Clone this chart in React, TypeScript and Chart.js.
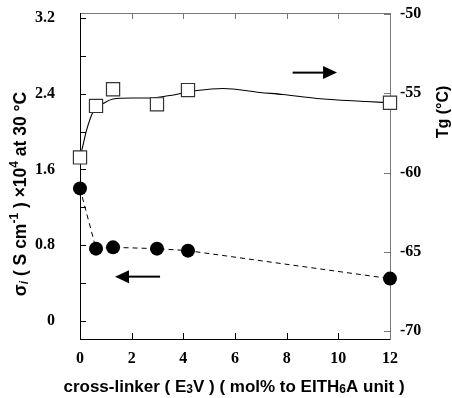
import React, { useEffect, useRef } from 'react';
import { Chart, registerables } from 'chart.js';
Chart.register(...registerables);

// ---- data ----
const crossLinker = [0, 0.62, 1.28, 2.98, 4.18, 12];
const sigmaValues = [1.4, 0.762, 0.776, 0.762, 0.741, 0.445];
const tgValues = [-59.05, -55.8, -54.75, -55.7, -54.8, -55.6];
const fitX = [0, 0.07, 0.26, 0.5, 0.97, 1.28, 2.0, 2.71, 3.48, 4.53, 5.54, 6.97, 7.86, 9.17, 11.1, 12];
const fitTg = [-59.05, -58.6, -57.3, -56.2, -55.58, -55.36, -55.3, -55.3, -55.14, -54.83, -54.7, -54.95, -55.08, -55.33, -55.52, -55.6];
const xTickValues = [0, 2, 4, 6, 8, 10, 12];
const sigmaTickValues = [0, 0.8, 1.6, 2.4, 3.2];
const sigmaMinorValues = [0.4, 1.2, 2.0, 2.8];
const tgTickValues = [-70, -65, -60, -55, -50];

const SERIF = '"Liberation Serif", "Times New Roman", serif';
const SANS = '"Liberation Sans", Arial, sans-serif';

type Run = { t: string; size: number; italic?: boolean; dy?: number };

function drawRuns(ctx: CanvasRenderingContext2D, runs: Run[], cx: number, cy: number, rotate: boolean) {
  const fontOf = (r: Run) => `${r.italic ? 'italic ' : ''}bold ${r.size}px ${SANS}`;
  let total = 0;
  const widths = runs.map((r) => {
    ctx.font = fontOf(r);
    const w = ctx.measureText(r.t).width;
    total += w;
    return w;
  });
  ctx.save();
  ctx.translate(cx, cy);
  if (rotate) ctx.rotate(-Math.PI / 2);
  ctx.fillStyle = '#000';
  ctx.textBaseline = 'middle';
  ctx.textAlign = 'left';
  let x = -total / 2;
  runs.forEach((r, i) => {
    ctx.font = fontOf(r);
    ctx.fillText(r.t, x, r.dy || 0);
    x += widths[i];
  });
  ctx.restore();
}

const noPad = (s: any) => {
  s.paddingTop = 0;
  s.paddingBottom = 0;
  s.paddingLeft = 0;
  s.paddingRight = 0;
};

const decorPlugin = {
  id: 'decor',
  afterDraw(chart: any) {
    const ctx: CanvasRenderingContext2D = chart.ctx;
    const xs = chart.scales.x;
    const ys = chart.scales.y;
    const y2 = chart.scales.y2;
    const { left, right, top, bottom } = chart.chartArea;
    const L = 6;
    ctx.save();
    ctx.lineWidth = 1;
    xTickValues.slice(1, -1).forEach((v) => {
      const px = Math.round(xs.getPixelForValue(v)) + 0.5;
      ctx.strokeStyle = '#000';
      ctx.beginPath();
      ctx.moveTo(px, bottom);
      ctx.lineTo(px, bottom - L);
      ctx.stroke();
      ctx.strokeStyle = '#777';
      ctx.beginPath();
      ctx.moveTo(px, top);
      ctx.lineTo(px, top + L);
      ctx.stroke();
    });
    ctx.strokeStyle = '#000';
    [...sigmaTickValues, ...sigmaMinorValues].forEach((v) => {
      const py = Math.round(ys.getPixelForValue(v)) + 0.5;
      ctx.beginPath();
      ctx.moveTo(left, py);
      ctx.lineTo(left + L, py);
      ctx.stroke();
    });
    ctx.strokeStyle = '#777';
    tgTickValues.forEach((v) => {
      const py = Math.round(y2.getPixelForValue(v)) + 0.5;
      ctx.beginPath();
      ctx.moveTo(right, py);
      ctx.lineTo(right - L, py);
      ctx.stroke();
    });
    const arrow = (x0: number, x1: number, py: number) => {
      const dir = Math.sign(x1 - x0);
      const head = 14;
      ctx.strokeStyle = '#000';
      ctx.fillStyle = '#000';
      ctx.lineWidth = 2;
      ctx.beginPath();
      ctx.moveTo(x0, py);
      ctx.lineTo(x1 - dir * head, py);
      ctx.stroke();
      ctx.beginPath();
      ctx.moveTo(x1, py);
      ctx.lineTo(x1 - dir * head, py - 6.5);
      ctx.lineTo(x1 - dir * head, py + 6.5);
      ctx.closePath();
      ctx.fill();
    };
    arrow(xs.getPixelForValue(8.23), xs.getPixelForValue(9.95), y2.getPixelForValue(-53.7));
    arrow(xs.getPixelForValue(3.1), xs.getPixelForValue(1.355), ys.getPixelForValue(0.466));
    ctx.restore();

    drawRuns(
      ctx,
      [
        { t: 'σ', size: 17.5 },
        { t: 'i', size: 12, italic: true, dy: 4 },
        { t: ' ( S cm', size: 17.5 },
        { t: '-1', size: 12, dy: -6 },
        { t: ' ) ×10', size: 17.5 },
        { t: '4', size: 12, dy: -6 },
        { t: ' at 30 °C', size: 17.5 },
      ],
      21,
      194,
      true
    );
    drawRuns(ctx, [{ t: 'Tg (°C)', size: 16 }], 444, 112, true);
    drawRuns(
      ctx,
      [
        { t: 'cross-linker ( E', size: 17 },
        { t: '3', size: 12, dy: 3 },
        { t: 'V ) ( mol% to EITH', size: 17 },
        { t: '6', size: 12, dy: 3 },
        { t: 'A unit )', size: 17 },
      ],
      234,
      387,
      false
    );
  },
};

export default function App() {
  const ref = useRef<HTMLCanvasElement | null>(null);
  useEffect(() => {
    document.body.style.margin = '0';
    if (!ref.current) return;
    const tickFont = { family: SERIF, size: 16, weight: 'bold' };
    const chart = new Chart(ref.current, {
      type: 'scatter',
      data: {
        datasets: [
          {
            label: 'Tg',
            data: crossLinker.map((x, i) => ({ x, y: tgValues[i] })),
            yAxisID: 'y2',
            showLine: false,
            clip: false,
            pointStyle: 'rect',
            pointRadius: 9.3,
            backgroundColor: '#fff',
            borderColor: '#333',
            borderWidth: 1.2,
          },
          {
            label: 'sigma',
            data: crossLinker.map((x, i) => ({ x, y: sigmaValues[i] })),
            yAxisID: 'y',
            showLine: true,
            clip: false,
            borderDash: [5, 4],
            borderColor: '#000',
            borderWidth: 1,
            pointStyle: 'circle',
            pointRadius: 7,
            pointBackgroundColor: '#000',
            pointBorderColor: '#000',
            pointBorderWidth: 0,
          },
          {
            label: 'fit',
            data: fitX.map((x, i) => ({ x, y: fitTg[i] })),
            yAxisID: 'y2',
            showLine: true,
            clip: false,
            cubicInterpolationMode: 'monotone',
            borderColor: '#000',
            borderWidth: 1.1,
            pointRadius: 0,
          },
        ],
      },
      options: {
        responsive: false,
        animation: false,
        devicePixelRatio: 1,
        layout: { padding: { top: 13, left: 0, right: 0, bottom: 0 } },
        plugins: { legend: { display: false }, tooltip: { enabled: false } },
        scales: {
          x: {
            type: 'linear',
            position: 'bottom',
            min: 0,
            max: 12,
            afterFit: (s: any) => { s.height = 59; noPad(s); },
            afterBuildTicks: (s: any) => { s.ticks = xTickValues.map((v) => ({ value: v })); },
            ticks: {
              padding: 10,
              color: '#000',
              font: tickFont,
              callback: (v: any) => String(v),
            },
            grid: { drawOnChartArea: false, drawTicks: false },
            border: { color: '#000', width: 1 },
          },
          x2: {
            type: 'linear',
            position: 'top',
            min: 0,
            max: 12,
            afterFit: (s: any) => { s.height = 0; noPad(s); },
            ticks: { display: false },
            grid: { drawOnChartArea: false, drawTicks: false },
            border: { color: '#777', width: 1 },
          },
          y: {
            type: 'linear',
            position: 'left',
            min: -0.194,
            max: 3.256,
            afterFit: (s: any) => { s.width = 80; noPad(s); },
            afterBuildTicks: (s: any) => { s.ticks = sigmaTickValues.map((v) => ({ value: v })); },
            ticks: {
              padding: 25,
              color: '#000',
              font: tickFont,
              callback: (v: any) => (v === 0 ? '0' : Number(v).toFixed(1)),
            },
            grid: { drawOnChartArea: false, drawTicks: false },
            border: { color: '#000', width: 1 },
          },
          y2: {
            type: 'linear',
            position: 'right',
            min: -70.5,
            max: -49.94,
            afterFit: (s: any) => { s.width = 62; noPad(s); },
            afterBuildTicks: (s: any) => { s.ticks = tgTickValues.map((v) => ({ value: v })); },
            ticks: {
              padding: 10,
              color: '#000',
              font: tickFont,
              callback: (v: any) => String(v),
            },
            grid: { drawOnChartArea: false, drawTicks: false },
            border: { color: '#777', width: 1 },
          },
        },
      } as any,
      plugins: [decorPlugin],
    });
    return () => chart.destroy();
  }, []);
  return (
    <div style={{ width: 452, height: 398 }}>
      <canvas ref={ref} width={452} height={398} style={{ display: 'block' }} />
    </div>
  );
}
